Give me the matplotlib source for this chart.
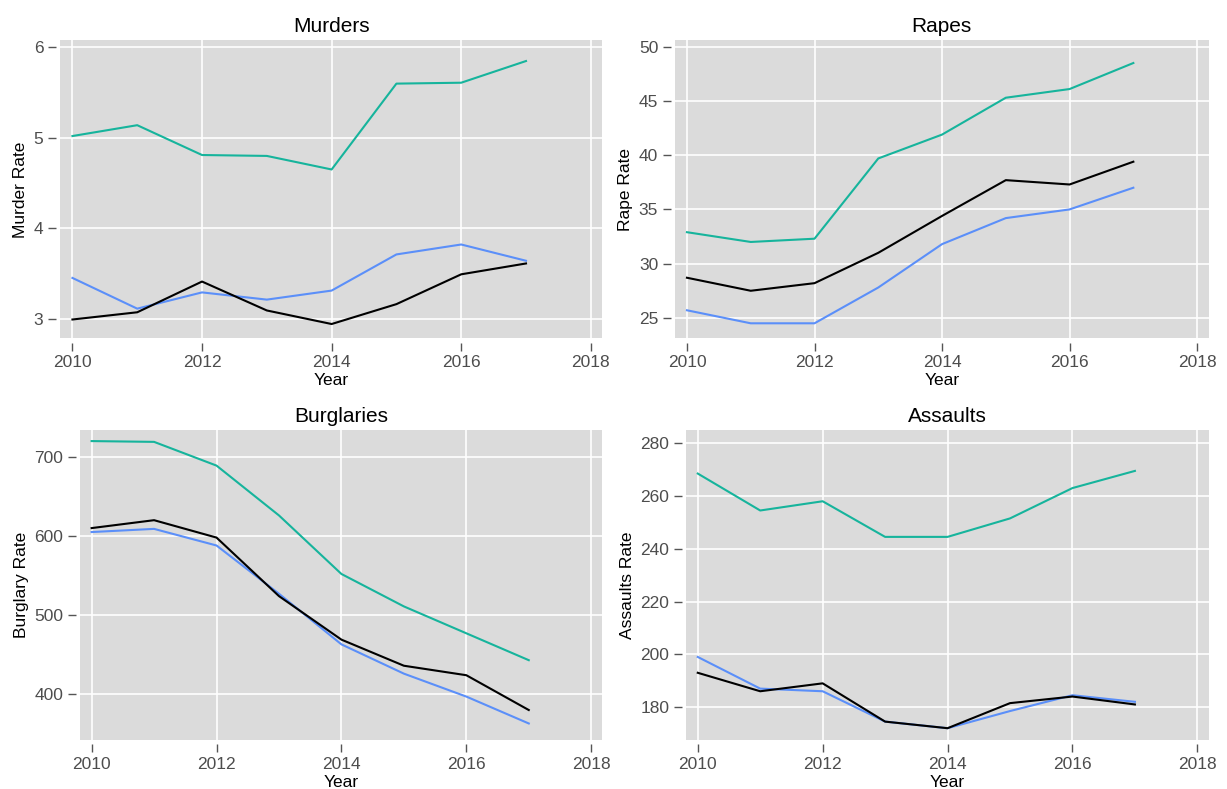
import numpy as np
import matplotlib.pyplot as plt

plt.rcParams['font.family'] = ['Liberation Sans', 'DejaVu Sans']

years = [2010, 2011, 2012, 2013, 2014, 2015, 2016, 2017]

# Murders
murder_teal = [5.02, 5.14, 4.81, 4.80, 4.65, 5.60, 5.61, 5.85]
murder_blue = [3.45, 3.11, 3.29, 3.21, 3.31, 3.71, 3.82, 3.64]
murder_black = [2.99, 3.07, 3.41, 3.09, 2.94, 3.16, 3.49, 3.61]

# Rapes
rape_teal = [32.9, 32.0, 32.3, 39.7, 41.9, 45.3, 46.1, 48.5]
rape_blue = [25.7, 24.5, 24.5, 27.8, 31.8, 34.2, 35.0, 37.0]
rape_black = [28.7, 27.5, 28.2, 31.0, 34.4, 37.7, 37.3, 39.4]

# Burglaries
burg_teal = [720, 719, 689, 626, 552, 511, 477, 443]
burg_blue = [605, 609, 588, 527, 463, 426, 397, 363]
burg_black = [610, 620, 598, 524, 469, 436, 424, 380]

# Assaults
assault_teal = [268.5, 254.5, 258.0, 244.5, 244.5, 251.5, 263.0, 269.5]
assault_blue = [199.0, 187.0, 186.0, 174.5, 172.0, 178.5, 184.5, 182.0]
assault_black = [193.0, 186.0, 189.0, 174.5, 172.0, 181.5, 184.0, 181.0]

TEAL = '#16b49c'
BLUE = '#5b8ff9'
BLACK = '#000000'

panels = [
    ('Murders', 'Murder Rate', murder_teal, murder_blue, murder_black,
     [3, 4, 5, 6], (2.78, 6.08), [0.049, 0.571, 0.442, 0.378]),
    ('Rapes', 'Rape Rate', rape_teal, rape_blue, rape_black,
     [25, 30, 35, 40, 45, 50], (23.1, 50.6), [0.550, 0.571, 0.435, 0.378]),
    ('Burglaries', 'Burglary Rate', burg_teal, burg_blue, burg_black,
     [400, 500, 600, 700], (342, 734), [0.065, 0.062, 0.426, 0.393]),
    ('Assaults', 'Assaults Rate', assault_teal, assault_blue, assault_black,
     [180, 200, 220, 240, 260, 280], (167.5, 285), [0.559, 0.062, 0.426, 0.393]),
]

fig = plt.figure(figsize=(12.27, 7.89), dpi=100)

for title, ylabel, teal, blue, black, yticks, ylim, rect in panels:
    ax = fig.add_axes(rect)
    ax.set_facecolor('#dbdbdb')
    ax.plot(years, teal, color=TEAL, linewidth=1.5)
    ax.plot(years, blue, color=BLUE, linewidth=1.5)
    ax.plot(years, black, color=BLACK, linewidth=1.5)
    ax.set_xlim(2009.81, 2018.18)
    ax.set_ylim(*ylim)
    ax.set_xticks([2010, 2012, 2014, 2016, 2018])
    ax.set_yticks(yticks)
    ax.grid(True, color='white', linewidth=1.2)
    ax.set_axisbelow(True)
    for side in ['left', 'bottom']:
        ax.spines[side].set_position(('outward', 3))
    for s in ax.spines.values():
        s.set_visible(False)
    ax.tick_params(axis='both', direction='out', length=6, width=1,
                   color='#555555', labelcolor='#4d4d4d', labelsize=12.5, pad=3)
    ax.set_title(title, fontsize=15, pad=6)
    ax.set_xlabel('Year', fontsize=12.5, labelpad=2)
    ax.set_ylabel(ylabel, fontsize=12.5, labelpad=4)

plt.savefig('out.png', dpi=100)
